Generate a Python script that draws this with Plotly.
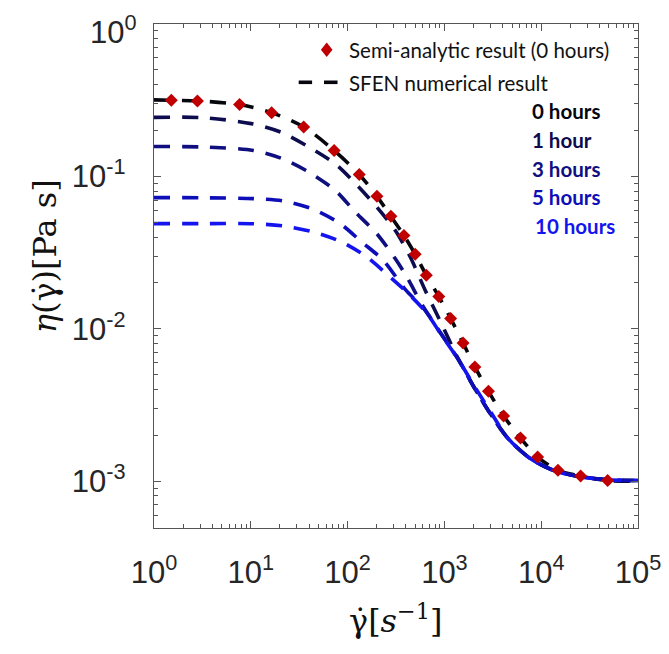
import plotly.graph_objects as go

# ---------------- data ----------------
semi_x = [1.51, 2.81, 7.66, 16.4, 35.2, 72.6, 132, 201, 280, 382, 499, 650, 875,
          1159, 1560, 2065, 2851, 4093, 6109, 9183, 14890, 25530, 48530]
semi_y = [0.316, 0.313, 0.296, 0.262, 0.211, 0.148, 0.103, 0.074, 0.0547, 0.0410,
          0.0308, 0.0225, 0.0163, 0.0117, 0.00807, 0.00562, 0.00389, 0.00268,
          0.00192, 0.00144, 0.00118, 0.00108, 0.00101]

h0_x = [1, 1.51, 2.81, 7.66, 16.4, 35.2, 72.6, 132, 201, 280, 382, 499, 650, 875,
        1159, 1560, 2065, 2851, 4093, 6109, 9183, 14890, 25530, 48530, 100000]
h0_y = [0.318, 0.316, 0.313, 0.296, 0.262, 0.211, 0.148, 0.103, 0.074, 0.0547, 0.0410,
        0.0308, 0.0225, 0.0163, 0.0117, 0.00807, 0.00562, 0.00389, 0.00268,
        0.00192, 0.00144, 0.00118, 0.00108, 0.00101, 0.00100]

h1_x = [1, 3.16, 10.1, 20.9, 39.7, 74.3, 124.5, 200, 310, 444, 631, 933, 1349, 1995,
        2951, 4571, 7709, 13300, 25119, 50119, 100000]
h1_y = [0.244, 0.243, 0.222, 0.194, 0.156, 0.121, 0.0879, 0.063, 0.0443, 0.0296,
        0.0180, 0.0108, 0.0066, 0.0042, 0.0028, 0.0019, 0.00141, 0.00118, 0.00107,
        0.00102, 0.00101]

h3_x = [1, 3.16, 10.6, 20.9, 39.4, 74.3, 119.7, 200, 310, 409, 603, 912, 1413, 1995,
        2951, 4571, 7709, 13300, 25119, 50119, 100000]
h3_y = [0.157, 0.156, 0.148, 0.131, 0.107, 0.0811, 0.0584, 0.0421, 0.0289, 0.0219,
        0.0140, 0.0094, 0.0062, 0.0042, 0.0028, 0.0019, 0.00141, 0.00118, 0.00107,
        0.00102, 0.00101]

h5_x = [1, 3.16, 10.6, 21.7, 44.4, 83.8, 140, 234, 398, 603, 912, 1413, 1995, 2951,
        4571, 7709, 13300, 25119, 50119, 100000]
h5_y = [0.0726, 0.0724, 0.0715, 0.069, 0.0608, 0.049, 0.0371, 0.0281, 0.0180, 0.0137,
        0.0094, 0.0062, 0.0042, 0.0028, 0.0019, 0.00141, 0.00118, 0.00107, 0.00102,
        0.00101]

h10_x = [1, 3.16, 10.6, 21.7, 44.4, 87.1, 158, 263, 442, 661, 912, 1413, 1995, 2951,
         4571, 7709, 13300, 25119, 50119, 100000]
h10_y = [0.0490, 0.0490, 0.0489, 0.0473, 0.0432, 0.0371, 0.0296, 0.0224, 0.0166,
         0.0126, 0.0093, 0.0062, 0.0043, 0.0029, 0.0019, 0.00141, 0.00118, 0.00107,
         0.00102, 0.00101]

series_labels = ["0 hours", "1 hour", "3 hours", "5 hours", "10 hours"]
series_colors = ["#06060f", "#0c0c4e", "#0f0f80", "#0e0eb8", "#1414ee"]

x_tickvals = [1, 10, 100, 1000, 10000, 100000]
x_ticktext = ["10<sup>0</sup>", "10<sup>1</sup>", "10<sup>2</sup>", "10<sup>3</sup>",
              "10<sup>4</sup>", "10<sup>5</sup>"]
y_tickvals = [0.001, 0.01, 0.1, 1]
y_ticktext = ["10<sup>-3</sup>", "10<sup>-2</sup>", "10<sup>-1</sup>", "10<sup>0</sup>"]

x_minor = [m * 10 ** d for d in range(0, 5) for m in range(2, 10)]
y_minor = [m * 10.0 ** d for d in range(-4, 0) for m in range(2, 10)]

# ---------------- layout geometry (page pixels; the page body has an 8px margin) ----------------
PAGE_W, PAGE_H, BODY = 669, 654, 8
L, R, T, B = 154, 637.7, 23.7, 527.7
W, H = PAGE_W - BODY, PAGE_H - BODY


def px(X, Y):
    return (X - L) / (R - L), (B - Y) / (B - T)


fig = go.Figure()

curves = [(h0_x, h0_y), (h1_x, h1_y), (h3_x, h3_y), (h5_x, h5_y), (h10_x, h10_y)]
for (cx, cy), lab, col in zip(curves, series_labels, series_colors):
    fig.add_trace(go.Scatter(
        x=cx, y=cy, mode="lines", name=lab, showlegend=False,
        line=dict(color=col, width=3.6, dash="16px,12px", shape="spline", smoothing=0.8),
    ))

fig.add_trace(go.Scatter(
    x=semi_x, y=semi_y, mode="markers", name="Semi-analytic result (0 hours)",
    showlegend=False,
    marker=dict(symbol="diamond", size=10, color="#c00000", line=dict(width=0)),
))

# invisible trace carrying the minor-tick axes
fig.add_trace(go.Scatter(x=[1], y=[1], xaxis="x2", yaxis="y2", mode="markers",
                         marker=dict(opacity=0), showlegend=False, hoverinfo="skip"))

axis_font = dict(family="Liberation Sans Narrow, Liberation Sans, Arial", size=31, color="#262626")
common = dict(
    type="log", showgrid=False, zeroline=False, showline=True, linecolor="#555555",
    linewidth=1.3, mirror="allticks", ticks="inside", ticklen=7, tickwidth=1.2,
    tickcolor="#555555", tickfont=axis_font, ticklabeloverflow="allow",
)
minor_common = dict(
    type="log", showgrid=False, zeroline=False, showline=False, mirror="allticks",
    ticks="inside", ticklen=4, tickwidth=1, tickcolor="#555555", showticklabels=False,
    tickmode="array",
)

# the top y label (10^0) sits at the very top edge; it is drawn as an annotation
# nudged just inside the page so its superscript is not clipped
y_axis_text = y_ticktext[:-1] + [""]

fig.update_layout(
    xaxis=dict(range=[0, 5], tickvals=x_tickvals, ticktext=x_ticktext,
               ticklabelstandoff=17, **common),
    yaxis=dict(range=[-3.307, 0], tickvals=y_tickvals, ticktext=y_axis_text,
               ticklabelstandoff=21, **common),
    xaxis2=dict(range=[0, 5], overlaying="x", anchor="y2", side="bottom",
                tickvals=x_minor, **minor_common),
    yaxis2=dict(range=[-3.307, 0], overlaying="y", anchor="x2", side="left",
                tickvals=y_minor, **minor_common),
)

annotations = []
xp, yp = px(138, 8.5)
annotations.append(dict(x=xp, y=yp, xref="paper", yref="paper", text=y_ticktext[-1],
                        showarrow=False, xanchor="right", yanchor="top", borderpad=0,
                        font=axis_font))

# hour labels
hour_pos = [(530, 111), (530, 140), (530, 168.7), (530, 197), (533, 225.5)]
for lab, col, (X, Y) in zip(series_labels, series_colors, hour_pos):
    xp, yp = px(X, Y)
    annotations.append(dict(x=xp, y=yp, xref="paper", yref="paper", text="<b>%s</b>" % lab,
                            showarrow=False, xanchor="left", yanchor="middle",
                            font=dict(family="Lato", size=20.5, color=col)))

# legend texts
for txt, Y in [("Semi-analytic result (0 hours)", 49.7), ("SFEN numerical result", 82.2)]:
    xp, yp = px(346.5, Y)
    annotations.append(dict(x=xp, y=yp, xref="paper", yref="paper", text=txt,
                            showarrow=False, xanchor="left", yanchor="middle",
                            font=dict(family="Lato", size=20.5, color="#111111")))

# axis titles
title_font = dict(family="DejaVu Serif", size=32, color="#111111")
xp, yp = px(396, 619)
annotations.append(dict(x=xp, y=yp, xref="paper", yref="paper",
                        text="γ̇[<i>s</i><sup>−1</sup>]", showarrow=False,
                        xanchor="center", yanchor="middle", font=title_font))
xp, yp = px(45, 256)
annotations.append(dict(x=xp, y=yp, xref="paper", yref="paper",
                        text="<i>η</i>(γ̇)[Pa s]", showarrow=False, textangle=-90,
                        xanchor="center", yanchor="middle", font=title_font))

shapes = []
# legend diamond
cxp, cyp = px(326.6, 49.5)
dw, dh = 5.8 / (R - L), 7.2 / (B - T)
shapes.append(dict(type="path", xref="paper", yref="paper",
                   path="M %f,%f L %f,%f L %f,%f L %f,%f Z" % (
                       cxp, cyp + dh, cxp + dw, cyp, cxp, cyp - dh, cxp - dw, cyp),
                   fillcolor="#c00000", line=dict(width=0)))
# legend dashes
for X0, X1 in [(298.6, 312.0), (323.9, 337.4)]:
    x0, y0 = px(X0, 82)
    x1, _ = px(X1, 82)
    shapes.append(dict(type="line", xref="paper", yref="paper", x0=x0, x1=x1, y0=y0, y1=y0,
                       line=dict(color="#06060f", width=3.6)))

fig.update_layout(
    width=W, height=H,
    margin=dict(l=L - BODY, r=PAGE_W - R, t=T - BODY, b=PAGE_H - B, pad=0, autoexpand=False),
    paper_bgcolor="white", plot_bgcolor="white",
    showlegend=False,
    annotations=annotations, shapes=shapes,
)

fig.write_html("out.html")
